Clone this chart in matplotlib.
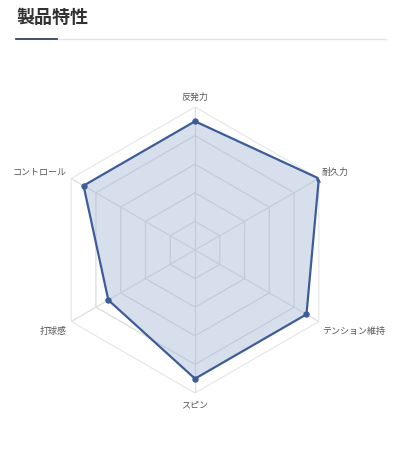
import numpy as np
import matplotlib
matplotlib.use("Agg")
import matplotlib.pyplot as plt
from matplotlib.lines import Line2D

plt.rcParams['font.family'] = ['Noto Sans CJK JP', 'DejaVu Sans']

# ---- data ----
title = "製品特性"
categories = ["反発力", "耐久力", "テンション維持", "スピン", "打球感", "コントロール"]
values = [9, 10, 9, 9, 7, 9]
ring_levels = [2, 4, 6, 8, 10]
r_max = 10

W, H = 406, 452
fig = plt.figure(figsize=(W / 100, H / 100), dpi=100)
fig.patch.set_facecolor("white")

# title + underline
fig.text(16 / W, 1 - 17 / H, title, fontsize=13, fontweight="bold", color="#333333",
         ha="left", va="center")
fig.add_artist(Line2D([57 / W, 386 / W], [1 - 40 / H, 1 - 40 / H], color="#e3e3e3", lw=1.0))
fig.add_artist(Line2D([16 / W, 57 / W], [1 - 40 / H, 1 - 40 / H], color="#1e3550", lw=1.2))

cx, cy, R = 195, 251, 143
ax = fig.add_axes([(cx - R) / W, (H - cy - R) / H, 2 * R / W, 2 * R / H], projection="polar")
ax.set_theta_offset(np.pi / 2)
ax.set_theta_direction(-1)
ax.set_ylim(0, r_max)
ax.grid(False)
ax.spines["polar"].set_visible(False)
ax.set_xticks([])
ax.set_yticks([])
ax.patch.set_alpha(0)

n = len(categories)
angles = np.arange(n) * 2 * np.pi / n
closed_ang = np.concatenate([angles, angles[:1]])

# hexagonal grid
for lv in ring_levels:
    col = "#e8e8e8" if lv == r_max else "#dbdbdb"
    ax.plot(closed_ang, [lv] * (n + 1), color=col, lw=0.9, zorder=1)
for a in angles:
    ax.plot([a, a], [0, r_max], color="#dedede", lw=0.9, zorder=1)

# data polygon
vals = np.array(values + values[:1], dtype=float)
ax.fill(closed_ang, vals, color="#a9b9d6", alpha=0.45, zorder=2, lw=0)
ax.plot(closed_ang, vals, color="#3d5d98", lw=1.6, zorder=3)
ax.plot(angles, values, "o", color="#3d5d98", ms=3.6, zorder=4)

# labels
offsets = [(0, 11, "center"), (3, 7.5, "left"), (3, -8.5, "left"),
           (0, -11, "center"), (-5, -8.5, "right"), (-5, 7.5, "right")]
for a, lab, (dx, dy, ha) in zip(angles, categories, offsets):
    ax.annotate(lab, xy=(a, r_max), xytext=(dx, dy), textcoords="offset pixels",
                ha=ha, va="center", fontsize=6.5, color="#555555", annotation_clip=False)

fig.savefig("out.png", dpi=100, facecolor="white")
